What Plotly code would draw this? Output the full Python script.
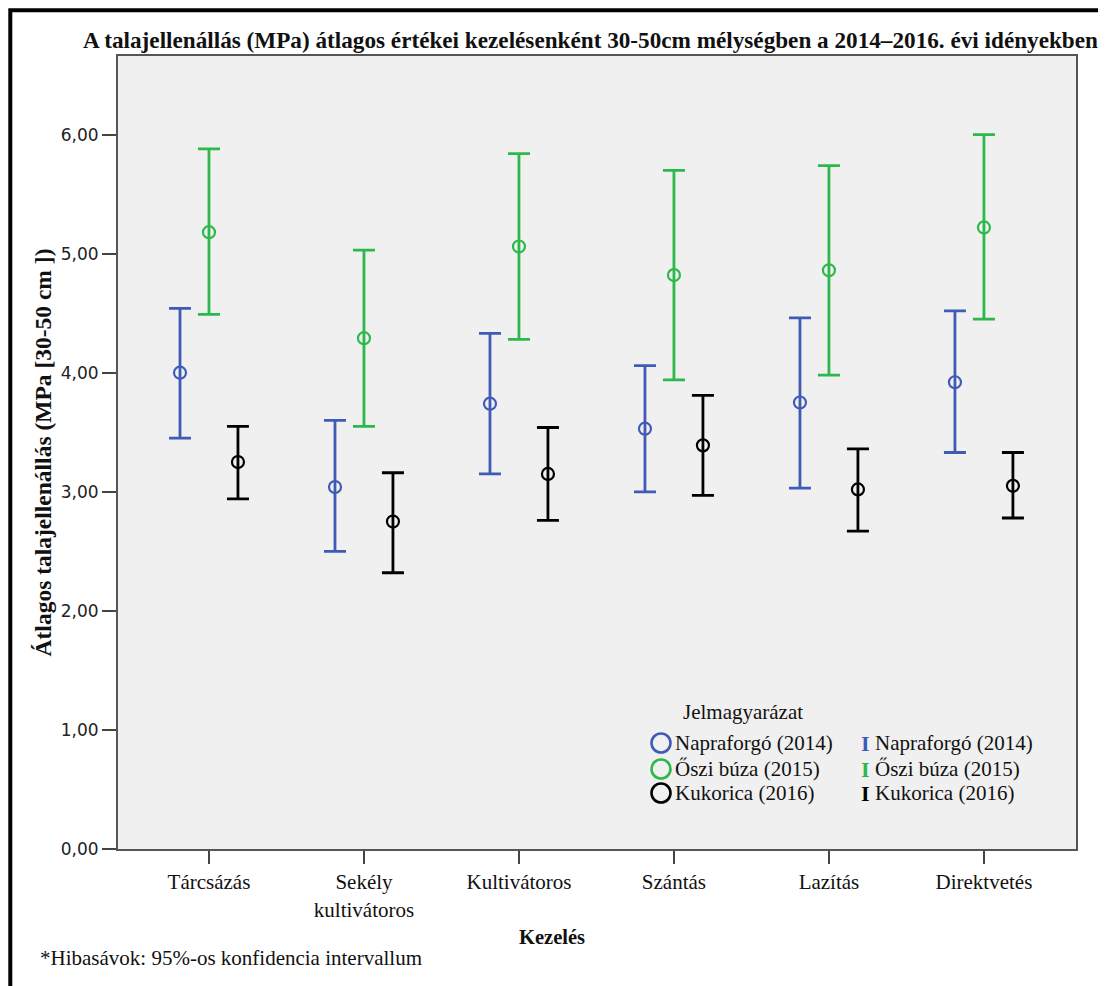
import plotly.graph_objects as go

# ---------------- data ----------------
categories = ["Tárcsázás", "Sekély<br>kultivátoros", "Kultivátoros", "Szántás", "Lazítás", "Direktvetés"]
series_names = ["Napraforgó (2014)", "Őszi búza (2015)", "Kukorica (2016)"]

nap_mean = [4.00, 3.04, 3.74, 3.53, 3.75, 3.92]
nap_hi = [4.54, 3.60, 4.33, 4.06, 4.46, 4.52]
nap_lo = [3.45, 2.50, 3.15, 3.00, 3.03, 3.33]

osz_mean = [5.18, 4.29, 5.06, 4.82, 4.86, 5.22]
osz_hi = [5.88, 5.03, 5.84, 5.70, 5.74, 6.00]
osz_lo = [4.49, 3.55, 4.28, 3.94, 3.98, 4.45]

kuk_mean = [3.25, 2.75, 3.15, 3.39, 3.02, 3.05]
kuk_hi = [3.55, 3.16, 3.54, 3.81, 3.36, 3.33]
kuk_lo = [2.94, 2.32, 2.76, 2.97, 2.67, 2.78]

y_ticks = [0, 1, 2, 3, 4, 5, 6]
y_ticktext = ["0,00", "1,00", "2,00", "3,00", "4,00", "5,00", "6,00"]

# ---------------- style ----------------
OFF = 8                      # default page body margin
W, H = 1106 - OFF, 986 - OFF
L, R, T, B = 118, 1076, 56, 849  # plot area in page pixels
colors = ["#3F5BB5", "#2DB84B", "#000000"]
offsets = [-0.187, 0.0, 0.187]
SERIF = "Liberation Serif"
SANS = "DejaVu Sans"


def px(x):
    return (x - L) / (R - L)


def py(y):
    return (B - y) / (B - T)


fig = go.Figure()
all_series = [(nap_mean, nap_hi, nap_lo), (osz_mean, osz_hi, osz_lo), (kuk_mean, kuk_hi, kuk_lo)]
for (mean, hi, lo), name, col, off in zip(all_series, series_names, colors, offsets):
    xs = [i + off for i in range(len(categories))]
    fig.add_trace(go.Scatter(
        x=xs, y=mean, mode="markers", name=name, showlegend=False,
        marker=dict(symbol="circle-open", size=12, color=col, line=dict(width=2.2, color=col)),
        error_y=dict(type="data", symmetric=False,
                     array=[h - m for h, m in zip(hi, mean)],
                     arrayminus=[m - l for m, l in zip(mean, lo)],
                     color=col, thickness=2.8, width=11),
    ))

fig.update_layout(
    width=W, height=H,
    margin=dict(l=L - OFF, r=W - (R - OFF), t=T - OFF, b=H - (B - OFF)),
    paper_bgcolor="white", plot_bgcolor="#F0F0F0",
    showlegend=False,
    font=dict(family=SERIF, size=21, color="#111"),
)
fig.update_xaxes(
    range=[-0.587, 5.594], tickvals=list(range(len(categories))), ticktext=categories,
    showgrid=False, zeroline=False, showline=True, linecolor="#555", linewidth=2, mirror=True,
    ticks="outside", ticklen=13, tickwidth=1.5, tickcolor="#444",
    tickfont=dict(family=SERIF, size=21, color="#111"),
)
fig.update_yaxes(
    range=[0, 6.66], tickvals=y_ticks, ticktext=y_ticktext,
    showgrid=False, zeroline=False, showline=True, linecolor="#555", linewidth=2, mirror=True,
    ticks="outside", ticklen=14, tickwidth=1.5, tickcolor="#444",
    tickfont=dict(family=SANS, size=17, color="#222"),
    title=dict(text="<b>Átlagos talajellenállás (MPa [30-50 cm ])</b>", standoff=3,
               font=dict(family=SERIF, size=23.5, color="#111")),
)

ann = []
ann.append(dict(text="<b>A talajellenállás (MPa) átlagos értékei kezelésenként 30-50cm mélységben a 2014–2016. évi idényekben</b>",
                x=px(590), y=py(40), xref="paper", yref="paper", xanchor="center", yanchor="middle",
                showarrow=False, font=dict(family=SERIF, size=23.2, color="#111")))
ann.append(dict(text="<b>Kezelés</b>", x=px(552), y=py(937), xref="paper", yref="paper",
                xanchor="center", yanchor="middle", showarrow=False,
                font=dict(family=SERIF, size=20.5, color="#111")))
ann.append(dict(text="*Hibasávok: 95%-os konfidencia intervallum", x=px(38), y=py(958), xref="paper", yref="paper",
                xanchor="left", yanchor="middle", showarrow=False,
                font=dict(family=SERIF, size=21, color="#111")))
# legend
ann.append(dict(text="Jelmagyarázat", x=px(743), y=py(712), xref="paper", yref="paper",
                xanchor="center", yanchor="middle", showarrow=False,
                font=dict(family=SERIF, size=21, color="#111")))
rows = [743, 769, 793]
shapes = []
for name, col, ry in zip(series_names, colors, rows):
    shapes.append(dict(type="circle", xref="paper", yref="paper", xsizemode="pixel", ysizemode="pixel",
                       xanchor=px(661), yanchor=py(ry), x0=-9.5, x1=9.5, y0=-9.5, y1=9.5,
                       line=dict(color=col, width=2.6), fillcolor="rgba(0,0,0,0)"))
    ann.append(dict(text=name, x=px(673), y=py(ry), xref="paper", yref="paper",
                    xanchor="left", yanchor="middle", showarrow=False,
                    font=dict(family=SERIF, size=21, color="#111")))
    ann.append(dict(text="<b>I</b>", x=px(865), y=py(ry), xref="paper", yref="paper",
                    xanchor="center", yanchor="middle", showarrow=False,
                    font=dict(family=SERIF, size=22, color=col)))
    ann.append(dict(text=name, x=px(873), y=py(ry), xref="paper", yref="paper",
                    xanchor="left", yanchor="middle", showarrow=False,
                    font=dict(family=SERIF, size=21, color="#111")))

# outer frame (cut at right and bottom like the reference)
shapes.append(dict(type="path", xref="paper", yref="paper",
                   path=f"M {px(10.3)},{py(1000)} L {px(10.3)},{py(10.3)} L {px(1120)},{py(10.3)}",
                   line=dict(color="black", width=4)))

fig.update_layout(annotations=ann, shapes=shapes)
fig.write_html("out.html")
